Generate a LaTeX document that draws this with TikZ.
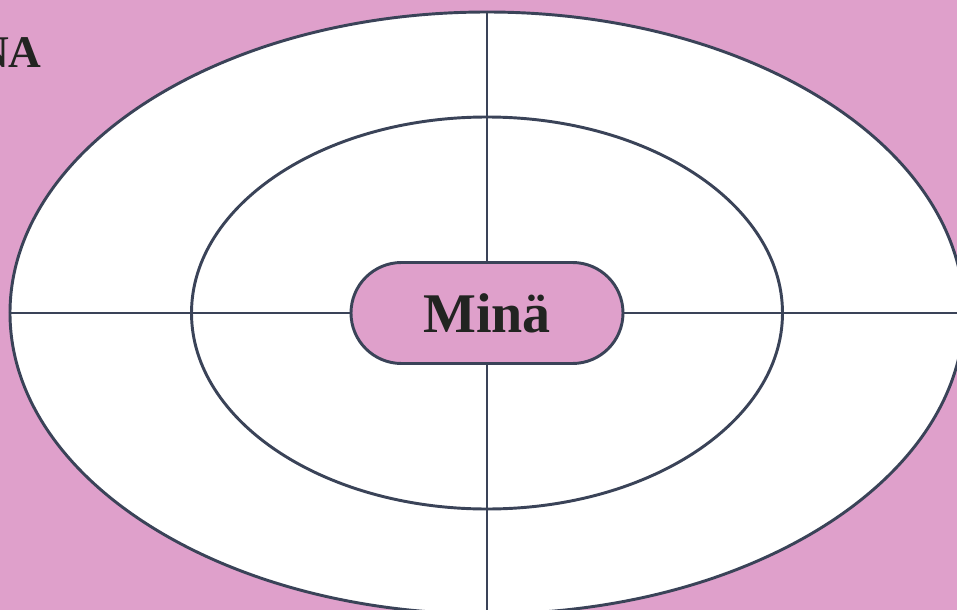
\documentclass[tikz,border=0pt]{standalone}
\usepackage{fontspec}
\setmainfont{Liberation Serif}
\usetikzlibrary{shapes.geometric, shapes.misc, positioning}
\definecolor{bgpink}{RGB}{223,160,203}
\definecolor{slateline}{RGB}{58,67,88}
\definecolor{inkblack}{RGB}{34,36,33}

\tikzset{
  ring/.style={ellipse, draw=slateline, line width=2.2pt, inner sep=0pt},
  axisline/.style={draw=slateline, line width=1.9pt},
  selfbox/.style={rounded rectangle, draw=slateline, line width=2.2pt, fill=bgpink,
    minimum width=204pt, minimum height=75.75pt, inner sep=0pt,
    font=\fontsize{42}{44}\selectfont\bfseries, text=inkblack},
}

\begin{document}
\begin{tikzpicture}[x=0.75pt, y=-0.75pt]
  \useasboundingbox (0,0) rectangle (957,610);
  \clip (0,0) rectangle (957,610);
  \fill[bgpink] (0,0) rectangle (957,610);

  % corner title, cut by the page edge
  \node[anchor=base east, inner sep=0pt, text=inkblack,
    font=\fontsize{34}{36}\selectfont\bfseries] (title) at (42,68) {NA};

  % rings
  \node[ring, fill=white, minimum width=715.5pt, minimum height=451.5pt] (outer) at (487,313) {};
  \node[ring, minimum width=443.25pt, minimum height=294pt] (inner) at (487,313) {};

  % cross
  \draw[axisline] (outer.west) -- (outer.east);
  \draw[axisline] (outer.north) -- (outer.south);

  \node[selfbox] (mina) at (487,313) {Minä};
\end{tikzpicture}
\end{document}
